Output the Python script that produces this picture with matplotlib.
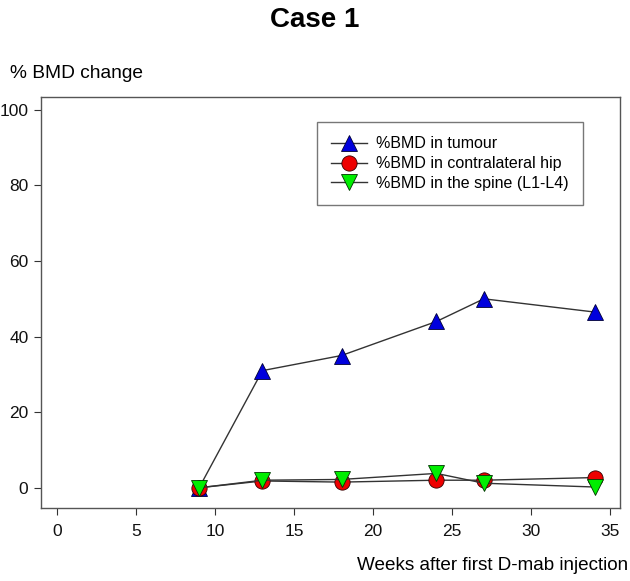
import matplotlib
matplotlib.use("Agg")
import matplotlib.pyplot as plt

plt.rcParams['font.family'] = ['Liberation Sans', 'DejaVu Sans']

weeks = [9, 13, 18, 24, 27, 34]
tumour = [0, 31, 35, 44, 50, 46.5]
hip = [0, 1.8, 1.5, 2.0, 2.0, 2.7]
spine = [0, 2.0, 2.2, 3.8, 1.2, 0.2]
xticks = [0, 5, 10, 15, 20, 25, 30, 35]
yticks = [0, 20, 40, 60, 80, 100]

fig = plt.figure(figsize=(6.30, 5.81), dpi=100)
ax = fig.add_axes([0.065, 0.126, 0.919, 0.707])

ax.plot(weeks, tumour, color='#333333', lw=1, marker='^', ms=12,
        mfc='#0000dd', mec='#000033', mew=0.6, label='%BMD in tumour', zorder=3)
ax.plot(weeks, hip, color='#333333', lw=1, marker='o', ms=11,
        mfc='#ee0000', mec='#330000', mew=0.6, label='%BMD in contralateral hip', zorder=3)
ax.plot(weeks, spine, color='#333333', lw=1, marker='v', ms=12,
        mfc='#00ee00', mec='#003300', mew=0.6, label='%BMD in the spine (L1-L4)', zorder=4)

ax.set_xlim(-1.0, 35.6)
ax.set_ylim(-5.3, 103.4)
ax.set_xticks(xticks)
ax.set_yticks(yticks)
ax.tick_params(direction='out', length=5, labelsize=12.5, pad=4, color='#333333',
               labelcolor='#111111')
ax.tick_params(axis='x', pad=7)
for s in ax.spines.values():
    s.set_color('#555555')
    s.set_linewidth(1)

fig.text(0.5, 0.965, 'Case 1', ha='center', va='center', fontsize=20, fontweight='bold')
fig.text(0.016, 0.874, '% BMD change', ha='left', va='center', fontsize=13.8)
fig.text(0.997, 0.027, 'Weeks after first D-mab injection', ha='right', va='center', fontsize=13.6)

leg = ax.legend(loc='upper left', bbox_to_anchor=(0.477, 0.939), borderaxespad=0,
                frameon=True, fancybox=False,
                edgecolor='#555555', fontsize=11.5, handlelength=2.2, borderpad=0.9,
                labelspacing=0.3, handletextpad=0.6)
leg.get_frame().set_linewidth(1)

fig.savefig('out.png', dpi=100)
